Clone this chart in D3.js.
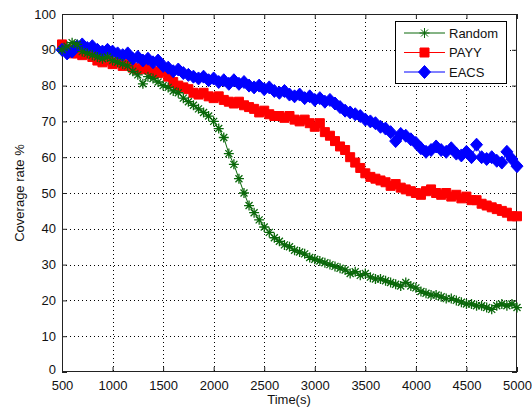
<!DOCTYPE html>
<html>
<head>
<meta charset="utf-8">
<script src="https://cdn.jsdelivr.net/npm/d3@7"></script>
<style>
  body { margin: 0; background: #fff; }
  text { font-family: "Liberation Sans", Arial, sans-serif; }
</style>
</head>
<body>
<svg id="chart" width="532" height="412"></svg>
<script>
// data
const timeSec = [500, 550, 600, 650, 700, 750, 800, 850, 900, 950,
  1000, 1050, 1100, 1150, 1200, 1250, 1300, 1350, 1400, 1450,
  1500, 1550, 1600, 1650, 1700, 1750, 1800, 1850, 1900, 1950,
  2000, 2050, 2100, 2150, 2200, 2250, 2300, 2350, 2400, 2450,
  2500, 2550, 2600, 2650, 2700, 2750, 2800, 2850, 2900, 2950,
  3000, 3050, 3100, 3150, 3200, 3250, 3300, 3350, 3400, 3450,
  3500, 3550, 3600, 3650, 3700, 3750, 3800, 3850, 3900, 3950,
  4000, 4050, 4100, 4150, 4200, 4250, 4300, 4350, 4400, 4450,
  4500, 4550, 4600, 4650, 4700, 4750, 4800, 4850, 4900, 4950, 5000];

const randomCov = [90, 91, 92, 91.5, 89.5, 89, 88.5, 88, 87.5, 88,
  87, 86.5, 86, 85.5, 84, 83, 80.5, 82.5, 82, 81,
  80, 79.5, 78.5, 78, 76.5, 75.5, 74.5, 73.5, 72.5, 71.5,
  70, 68, 65.5, 61, 58, 54, 50, 46.5, 44.5, 42.5,
  40.5, 39, 37.5, 36.5, 35.5, 35, 34, 33.5, 33, 32,
  31.5, 31, 30.5, 30, 29.5, 29, 28.5, 27.5, 28, 27,
  27.5, 26.5, 26, 26, 25.5, 25, 24.5, 24, 25, 24,
  23.5, 22.5, 22, 21.5, 21.5, 21, 20.5, 20.5, 20, 19.5,
  19, 19, 18.5, 18.5, 18, 17.5, 18.5, 19, 18.5, 19, 18];

const payyCov = [91.5, 90, 89, 89, 88.5, 89, 88, 87, 86.5, 87,
  86, 86.5, 85.5, 86, 85, 84.5, 85, 84.5, 84, 83.5,
  84, 82.5, 81, 80, 79.5, 79, 78, 77.5, 78, 77,
  76.5, 77, 76, 75.5, 75, 75.5, 74.5, 74, 73.5, 72.5,
  73, 72, 71.5, 71.5, 71, 71.5, 70.5, 70, 70.5, 69.5,
  68.5, 69.5, 67, 66, 64.5, 63, 62, 60, 58.5, 57,
  55.5, 54.5, 54, 53.5, 53, 52, 52.5, 51.5, 51, 50.5,
  50, 49.5, 50.5, 51, 50, 49.5, 50, 49, 49.5, 48.5,
  49, 48, 48, 47, 46.5, 46, 45.5, 45, 44.5, 43.5, 43.5];

const eacsCov = [90, 89, 89.5, 91, 91.5, 90.5, 91, 90, 89.5, 90,
  89.5, 89, 88.5, 89, 87.5, 88, 87, 87.5, 86.5, 87,
  85.5, 85, 84, 84.5, 83.5, 83, 82.5, 82, 82.5, 81.5,
  82, 81, 81.5, 80.5, 81.5, 80.5, 81, 80, 79.5, 80,
  79, 79.5, 78.5, 78, 78.5, 77.5, 77, 77.5, 76.5, 77,
  76, 76.5, 75.5, 76, 75, 74, 73, 72.5, 72, 71.5,
  70.5, 70, 69.5, 68.5, 68, 67, 64.5, 66.5, 66, 65,
  64, 62.5, 61.5, 62, 63, 62, 61.5, 62.5, 61, 60.5,
  61.5, 60, 63.5, 60, 59.5, 60, 59, 58.5, 61.5, 59.5, 57.5];

const xTicks = [500, 1000, 1500, 2000, 2500, 3000, 3500, 4000, 4500, 5000];
const yTicks = [0, 10, 20, 30, 40, 50, 60, 70, 80, 90, 100];
const seriesNames = ["Random", "PAYY", "EACS"];

const svg = d3.select("#chart");
const plotLeft = 62, plotRight = 517, plotTop = 14, plotBottom = 372;

const x = d3.scaleLinear().domain([500, 5000]).range([plotLeft, plotRight]);
const y = d3.scaleLinear().domain([0, 100]).range([plotBottom, plotTop]);

// dotted grid
const grid = svg.append("g").attr("stroke", "#000").attr("stroke-width", 1)
  .attr("stroke-dasharray", "1,3");
grid.selectAll("line.gx").data(xTicks.slice(1, -1)).enter().append("line")
  .attr("x1", d => Math.round(x(d)) + 0.5).attr("x2", d => Math.round(x(d)) + 0.5)
  .attr("y1", plotTop).attr("y2", plotBottom);
grid.selectAll("line.gy").data(yTicks.slice(1, -1)).enter().append("line")
  .attr("y1", d => Math.round(y(d)) + 0.5).attr("y2", d => Math.round(y(d)) + 0.5)
  .attr("x1", plotLeft).attr("x2", plotRight);

// axes, ticks pointing in like matlab
function styleAxis(g) {
  g.select(".domain").remove();
  g.selectAll(".tick line").attr("stroke", "#222");
  g.selectAll(".tick text").attr("fill", "#111").style("font-size", "13px");
}
svg.append("g").attr("transform", `translate(0,${plotBottom})`)
  .call(d3.axisBottom(x).tickValues(xTicks).tickSize(-5).tickPadding(9).tickFormat(d3.format("d")))
  .call(styleAxis);
svg.append("g").attr("transform", `translate(0,${plotTop})`)
  .call(d3.axisTop(x).tickValues(xTicks).tickSize(-5).tickFormat(""))
  .call(styleAxis);
svg.append("g").attr("transform", `translate(${plotLeft},0)`)
  .call(d3.axisLeft(y).tickValues(yTicks).tickSize(-5).tickPadding(6))
  .call(styleAxis)
  .call(g => g.selectAll(".tick text").filter(d => d === 0).attr("y", -2.5));
svg.append("g").attr("transform", `translate(${plotRight},0)`)
  .call(d3.axisRight(y).tickValues(yTicks).tickSize(-5).tickFormat(""))
  .call(styleAxis);

svg.append("rect")
  .attr("x", plotLeft + 0.5).attr("y", plotTop + 0.5)
  .attr("width", plotRight - plotLeft - 1).attr("height", plotBottom - plotTop - 1)
  .attr("fill", "none").attr("stroke", "#222");

// marker shapes
const markerPath = {
  Random: "M-5,0H5M0,-5V5M-3.5,-3.5L3.5,3.5M-3.5,3.5L3.5,-3.5",
  PAYY: "M-4.5,-4.5H4.5V4.5H-4.5Z",
  EACS: "M0,-6.5L6,0L0,6.5L-6,0Z"
};
const colors = { Random: "#0a680a", PAYY: "#ff0000", EACS: "#0000ff" };

const series = [
  { name: "PAYY", values: payyCov },
  { name: "EACS", values: eacsCov },
  { name: "Random", values: randomCov }
];

const line = d3.line().x((d, i) => x(timeSec[i])).y(d => y(d));

series.forEach(s => {
  const g = svg.append("g");
  g.append("path").datum(s.values)
    .attr("d", line).attr("fill", "none")
    .attr("stroke", colors[s.name]).attr("stroke-width", 1);
  g.selectAll("path.m").data(s.values).enter().append("path")
    .attr("class", "m")
    .attr("transform", (d, i) => `translate(${x(timeSec[i])},${y(d)})`)
    .attr("d", markerPath[s.name])
    .attr("fill", s.name === "Random" ? "none" : colors[s.name])
    .attr("stroke", colors[s.name])
    .attr("stroke-width", s.name === "Random" ? 1.3 : 1);
});

// axis labels
svg.append("text").attr("x", 289).attr("y", 404)
  .attr("text-anchor", "middle").style("font-size", "13px").attr("fill", "#111")
  .text("Time(s)");
svg.append("text").attr("transform", "translate(24,193) rotate(-90)")
  .attr("text-anchor", "middle").style("font-size", "13px").attr("fill", "#111")
  .text("Coverage rate %");

// legend
const legend = svg.append("g");
legend.append("rect").attr("x", 395.5).attr("y", 21.5).attr("width", 111).attr("height", 62)
  .attr("fill", "#fff").attr("stroke", "#000");
seriesNames.forEach((name, i) => {
  const ly = 33 + i * 19.5;
  legend.append("line").attr("x1", 404).attr("x2", 445).attr("y1", ly).attr("y2", ly)
    .attr("stroke", colors[name]).attr("stroke-width", 1);
  legend.append("path").attr("transform", `translate(424.5,${ly})`)
    .attr("d", markerPath[name])
    .attr("fill", name === "Random" ? "none" : colors[name])
    .attr("stroke", colors[name]);
  legend.append("text").attr("x", 449).attr("y", ly).attr("dy", "0.35em")
    .style("font-size", "13px").attr("fill", "#111").text(name);
});
</script>
</body>
</html>
